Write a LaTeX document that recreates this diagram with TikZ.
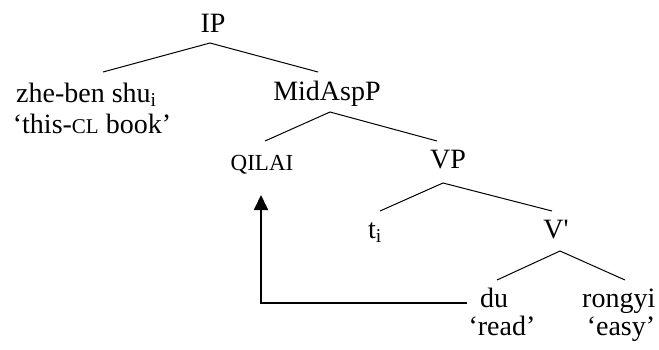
\documentclass[tikz,border=0pt]{standalone}
\usepackage{fontspec}
\setmainfont{Liberation Serif}[Ligatures=TeXOff]
\usetikzlibrary{arrows.meta}
\begin{document}
\begin{tikzpicture}[x=1pt,y=-1pt,
  lab/.style={inner sep=0pt,anchor=base,font=\fontsize{28}{30}\selectfont},
  branch/.style={line width=1pt},
  move/.style={line width=1.8pt,-{Triangle[width=14pt,length=15pt]}}]
\useasboundingbox (0,0) rectangle (659,349);
\node[lab] (IP) at (213,32) {IP};
\node[lab,anchor=base west] (zhe) at (16,102) {zhe-ben shu\textsubscript{i}};
\node[lab] (zheg) at (92,133) {‘this-{\fontsize{21}{21}\selectfont CL} book’};
\node[lab] (Mid) at (327,100) {MidAspP};
\node[lab,font=\fontsize{23}{25}\selectfont] (qilai) at (262,170) {QILAI};
\node[lab] (VP) at (448,168) {VP};
\node[lab,anchor=base west] (t) at (368,238) {t\textsubscript{i}};
\node[lab] (Vbar) at (556,238) {V'};
\node[lab,anchor=base west] (du) at (480,307) {du};
\node[lab] (dug) at (502,335) {‘read’};
\node[lab,anchor=base west] (rong) at (582,307) {rongyi};
\node[lab] (rongg) at (621,335) {‘easy’};
\draw[branch] ([shift={(87,-30)}]zhe.base west) -- ([shift={(-3,11)}]IP.base) -- ([shift={(-9,-28)}]Mid.base);
\draw[branch] ([shift={(3,-29)}]qilai.base) -- ([shift={(3,12)}]Mid.base) -- ([shift={(-11,-27)}]VP.base);
\draw[branch] ([shift={(12,-27)}]t.base west) -- ([shift={(-5,15)}]VP.base) -- ([shift={(-4,-27)}]Vbar.base);
\draw[branch] ([shift={(17,-27)}]du.base west) -- ([shift={(4,13)}]Vbar.base) -- ([shift={(43,-27)}]rong.base west);
\draw[move] ([shift={(-13,-4)}]du.base west) -| ([shift={(-1,25)}]qilai.base);
\end{tikzpicture}
\end{document}
